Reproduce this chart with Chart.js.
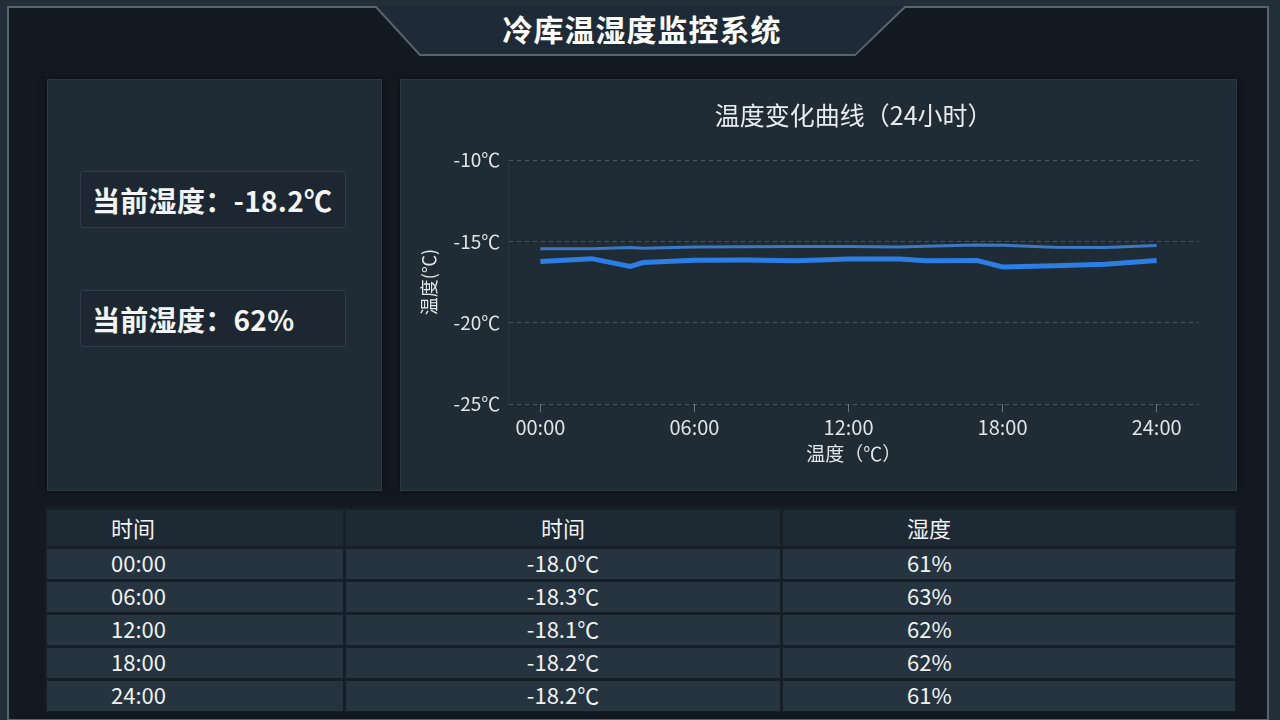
<!DOCTYPE html>
<html>
<head>
<meta charset="utf-8">
<script src="https://cdn.jsdelivr.net/npm/chart.js@4"></script>
<style>
  html, body { margin: 0; padding: 0; }
  body {
    width: 1280px; height: 720px; overflow: hidden; position: relative;
    background: #222e38;
    font-family: "Noto Sans CJK SC", "Noto Sans", sans-serif;
    color: #f2f4f6;
  }
  #frame { position: absolute; left: 0; top: 0; }
  .title {
    position: absolute; left: 0; width: 1284px; top: 6px; text-align: center;
    font-size: 30px; font-weight: 700; letter-spacing: 1px; color: #ffffff;
  }
  .panel {
    position: absolute; background: #1f2b35; border: 1px solid #2b3944;
    box-shadow: 0 0 6px rgba(0,0,0,0.5);
  }
  .stat {
    position: absolute; left: 80px; width: 266px; height: 57px;
    background: #1c2731; border: 1px solid #2f3d48; border-radius: 3px;
    font-size: 28px; font-weight: 600; line-height: 57px; padding-left: 11px;
    box-sizing: border-box; white-space: nowrap; letter-spacing: 0.3px;
  }
  #tbl {
    position: absolute; left: 45px; top: 507px; width: 1191px; height: 205px;
    background: #161f27;
  }
  .row { position: absolute; left: 2px; height: 30px; }
  .cell {
    position: absolute; top: 0; height: 100%; background: #263440;
    font-size: 22px; line-height: 26px; color: #f0f2f4; white-space: nowrap;
  }
  .hdr .cell { background: #1d2933; font-size: 22px; line-height: 34px; }
</style>
</head>
<body>
<svg id="frame" width="1280" height="720">
  <polygon points="8,720 8,7 376,7 420,55 855,55 905,7 1268,7 1268,720" fill="#121920" stroke="#56646f" stroke-width="2"/>
  <polygon points="378,6 903,6 855,54 421,54" fill="#1e2b36"/>
</svg>
<div class="title">冷库温湿度监控系统</div>

<div class="panel" style="left:47px; top:79px; width:333px; height:410px;"></div>
<div class="stat" style="top:171px;" id="statTemp"></div>
<div class="stat" style="top:290px;" id="statHum"></div>

<div class="panel" style="left:400px; top:79px; width:835px; height:410px;">
  <canvas id="myChart" width="835" height="410"></canvas>
</div>

<div id="tbl"></div>

<script>
// 曲线数据（小时, ℃）
var hours = [0, 2, 3.5, 4, 6, 8, 10, 12, 14, 15, 17, 18, 20, 22, 24];
var upperTemps = [-15.45, -15.45, -15.37, -15.42, -15.34, -15.33, -15.32, -15.31, -15.34, -15.30, -15.22, -15.24, -15.36, -15.38, -15.25];
var lowerTemps = [-16.23, -16.06, -16.54, -16.30, -16.16, -16.15, -16.19, -16.08, -16.08, -16.19, -16.17, -16.57, -16.50, -16.40, -16.17];

// 坐标轴刻度
var tickHours = [0, 6, 12, 18, 24];
var tickLabels = ['00:00', '06:00', '12:00', '18:00', '24:00'];
var yTicks = [-25, -20, -15, -10];

// 表格数据
var tableTimes = ['00:00', '06:00', '12:00', '18:00', '24:00'];
var tableTemps = ['-18.0℃', '-18.3℃', '-18.1℃', '-18.2℃', '-18.2℃'];
var tableHums = ['61%', '63%', '62%', '62%', '61%'];
var tableHeaders = ['时间', '时间', '湿度'];

// 当前值
var currentTemp = '-18.2℃';
var currentHum = '62%';

document.getElementById('statTemp').textContent = '当前湿度：' + currentTemp;
document.getElementById('statHum').textContent = '当前湿度：' + currentHum;

// 表格
var tbl = document.getElementById('tbl');
var cols = [
    { left: 0, width: 296, align: 'left', pad: 64 },
    { left: 299, width: 434, align: 'center', pad: 0 },
    { left: 736, width: 452, align: 'left', pad: 124 }
];
function addRow(values, top, height, isHeader) {
    var row = document.createElement('div');
    row.className = 'row' + (isHeader ? ' hdr' : '');
    row.style.top = top + 'px';
    row.style.height = height + 'px';
    for (var c = 0; c < cols.length; c++) {
        var cell = document.createElement('div');
        cell.className = 'cell';
        cell.style.left = cols[c].left + 'px';
        cell.style.width = cols[c].width + 'px';
        cell.style.textAlign = cols[c].align;
        cell.style.paddingLeft = cols[c].pad + 'px';
        cell.style.boxSizing = 'border-box';
        cell.textContent = values[c];
        row.appendChild(cell);
    }
    tbl.appendChild(row);
}
addRow(tableHeaders, 3, 36, true);
for (var i = 0; i < tableTimes.length; i++) {
    addRow([tableTimes[i], tableTemps[i], tableHums[i]], 42 + i * 33, 30, false);
}

function toPoints(ys) {
    var pts = [];
    for (var i = 0; i < hours.length; i++) {
        pts.push({ x: hours[i], y: ys[i] });
    }
    return pts;
}

var fontFamily = '"Noto Sans CJK SC", "Noto Sans", sans-serif';
var ctx = document.getElementById('myChart').getContext('2d');
var myChart = new Chart(ctx, {
    type: 'line',
    data: {
        datasets: [
            {
                label: 'upper',
                data: toPoints(upperTemps),
                borderColor: '#3a79c6',
                borderWidth: 3,
                pointRadius: 0,
                tension: 0
            },
            {
                label: 'lower',
                data: toPoints(lowerTemps),
                borderColor: '#2a7ee4',
                borderWidth: 5,
                pointRadius: 0,
                tension: 0
            }
        ]
    },
    options: {
        responsive: false,
        animation: false,
        layout: { padding: { left: 13, right: 37, top: 20, bottom: 21 } },
        plugins: {
            legend: { display: false },
            tooltip: { enabled: false },
            title: {
                display: true,
                fullSize: false,
                text: '温度变化曲线（24小时）',
                color: '#e8ecef',
                font: { family: fontFamily, size: 25, weight: 'normal' },
                padding: { top: 0, bottom: 30 }
            }
        },
        scales: {
            x: {
                type: 'linear',
                min: -1.25,
                max: 25.65,
                afterBuildTicks: function (axis) {
                    axis.ticks = tickHours.map(function (h) { return { value: h }; });
                },
                ticks: {
                    color: '#dfe4e8',
                    font: { family: fontFamily, size: 20 },
                    padding: 3,
                    maxRotation: 0,
                    callback: function (v) {
                        var k = tickHours.indexOf(v);
                        return k >= 0 ? tickLabels[k] : '';
                    }
                },
                grid: {
                    drawOnChartArea: false,
                    drawTicks: true,
                    tickLength: 8,
                    color: 'rgba(255,255,255,0.35)'
                },
                border: { display: false },
                title: {
                    display: true,
                    text: '温度（℃）',
                    color: '#e2e6ea',
                    font: { family: fontFamily, size: 19 },
                    padding: { top: 0 }
                }
            },
            y: {
                min: -25,
                max: -10,
                afterBuildTicks: function (axis) {
                    axis.ticks = yTicks.map(function (v) { return { value: v }; });
                },
                ticks: {
                    color: '#dfe4e8',
                    font: { family: fontFamily, size: 19 },
                    padding: 8,
                    callback: function (v) { return v + '℃'; }
                },
                grid: {
                    color: 'rgba(255,255,255,0.2)',
                    drawTicks: false
                },
                border: { display: true, color: 'rgba(255,255,255,0.05)', dash: [4, 4] },
                title: {
                    display: true,
                    text: '温度(℃)',
                    color: '#e2e6ea',
                    font: { family: fontFamily, size: 18 },
                    padding: { bottom: 6 }
                }
            }
        }
    }
});
myChart.options.scales.y.border.dash = [4, 4];
myChart.update();
</script>
</body>
</html>
